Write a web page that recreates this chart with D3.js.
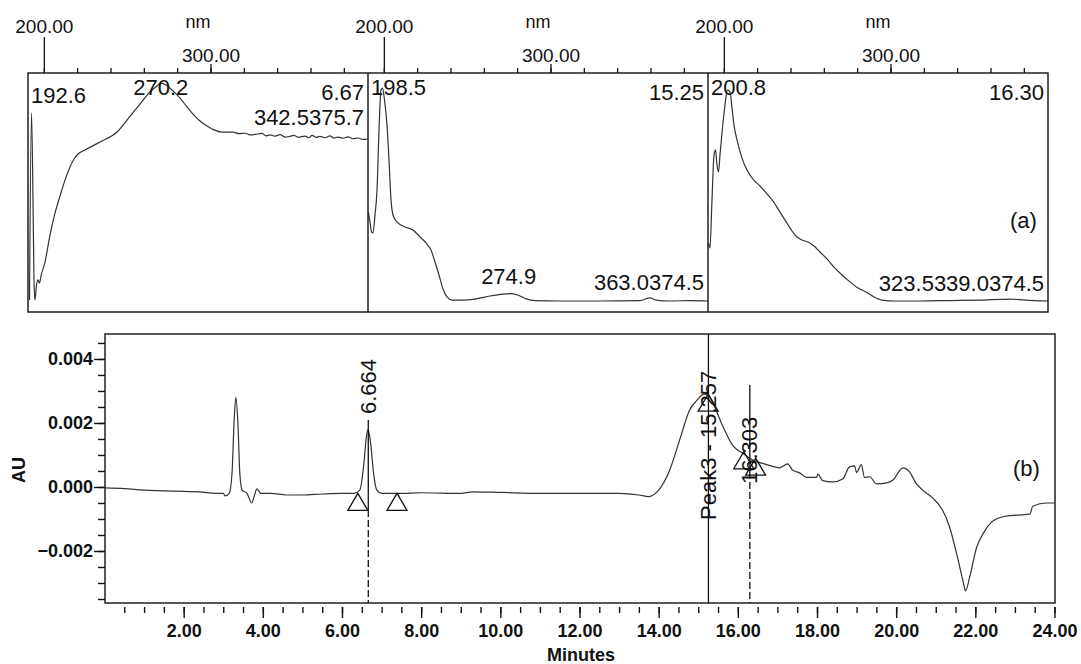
<!DOCTYPE html>
<html><head><meta charset="utf-8">
<script src="https://cdn.jsdelivr.net/npm/d3@7"></script>
<style>
body{margin:0;background:#fff;}
svg{display:block;font-family:"Liberation Sans",Arial,sans-serif;}
</style></head><body>
<svg id="chart" width="1081" height="664"></svg>
<script>
// ---------------- DATA ----------------
// UV spectra (wavelength nm, normalized absorbance)
const spectrum1 = [
 [191.4,.050],[192.6,.833],[193.5,.469],[194.1,.134],[194.7,.050],[195.6,.113],[196.5,.134],[197.4,.121],
 [198.3,.151],[200.7,.209],[203.7,.322],[206.7,.414],[209.7,.485],[212.7,.552],[215.7,.607],[218.1,.640],
 [220.5,.661],[224.7,.678],[233.7,.711],[243.9,.753],[250.5,.808],[257.7,.870],[263.7,.921],[267.9,.946],
 [270.3,.958],[273.3,.950],[277.5,.925],[281.7,.895],[285.9,.858],[289.5,.828],[293.7,.799],[297.9,.778],
 [302.1,.762],[306.9,.753],[313.5,.753],[317.1,.746],[320.7,.748],[323.7,.741],[326.7,.743],[330.9,.747],
 [333.3,.737],[335.7,.741],[338.7,.736],[341.7,.742],[344.7,.732],[347.7,.735],[350.1,.739],[352.5,.731],
 [356.7,.736],[359.1,.729],[360.9,.739],[363.3,.731],[365.7,.735],[368.7,.729],[371.7,.737],[374.1,.728],
 [376.5,.732],[379.5,.727],[382.5,.733],[385.5,.725],[388.5,.728],[391.5,.722],[393.9,.723]
];
const spectrum2 = [
 [190.7,.418],[191.7,.377],[192.6,.335],[193.5,.331],[194.7,.406],[195.9,.510],[197.1,.761],[198.3,.929],
 [199.2,.937],[200.4,.887],[201.9,.782],[203.1,.636],[204.3,.469],[205.5,.406],[207.9,.377],[212.7,.356],
 [217.5,.343],[221.7,.314],[225.3,.289],[228.3,.259],[230.7,.209],[233.1,.155],[235.5,.096],[237.9,.063],
 [240.9,.050],[246.9,.050],[254.7,.054],[263.7,.067],[271.5,.075],[276.9,.077],[281.7,.067],[285.9,.054],
 [290.7,.048],[305.7,.046],[329.7,.046],[353.7,.048],[359.7,.059],[363.3,.050],[371.7,.046],[383.7,.048],[394.5,.046]
];
const spectrum3 = [
 [190.8,.289],[191.7,.268],[192.9,.469],[194.1,.657],[195.0,.678],[195.9,.615],[196.8,.586],[197.7,.657],
 [198.9,.749],[200.7,.866],[202.2,.929],[203.7,.921],[204.9,.854],[206.1,.782],[207.9,.720],[210.9,.644],
 [213.9,.594],[217.5,.556],[221.7,.527],[225.9,.494],[229.5,.464],[233.7,.418],[237.9,.372],[240.9,.339],
 [243.9,.314],[246.9,.301],[250.5,.293],[254.1,.276],[257.7,.251],[261.9,.222],[266.1,.188],[270.9,.155],
 [275.7,.126],[280.5,.100],[285.3,.084],[290.1,.063],[294.9,.050],[302.7,.046],[317.7,.046],[335.7,.048],
 [353.7,.050],[371.7,.054],[380.7,.050],[394.5,.046]
];
const spectrumRT = ["6.67", "15.25", "16.30"];
const spectrumPeaks = [[192.6, 270.2], [198.5, 274.9], [200.8]];
const spectrumTail = [["342.5", "375.7"], ["363.0", "374.5"], ["323.5", "339.0", "374.5"]];
const nmTicks = [200, 220, 240, 260, 280, 300, 320, 340, 360, 380];
const nmLabels = ["200.00", "300.00"];

// Chromatogram (minutes, AU)
const chromTime = [0.02,0.5,1.0,1.5,2.0,2.4,2.8,3.0,3.05,3.15,3.22,3.28,3.32,3.37,3.42,3.48,3.6,3.72,3.78,3.85,3.95,
 4.2,4.6,5.0,5.5,6.0,6.3,6.45,6.55,6.62,6.66,6.72,6.8,6.88,7.0,7.5,8.0,9.0,9.3,10.0,11.0,12.0,13.0,13.5,13.75,
 14.0,14.28,14.53,14.78,14.96,15.15,15.3,15.45,15.62,15.87,16.12,16.38,16.73,17.06,17.26,17.38,17.56,17.74,17.99,
 18.02,18.14,18.4,18.65,18.82,18.95,19.0,19.12,19.2,19.33,19.5,19.76,19.92,20.17,20.34,20.5,20.67,20.92,21.17,
 21.35,21.53,21.7,21.75,21.86,22.03,22.2,22.41,22.7,23.04,23.38,23.45,23.8,24.0];
const chromAU = [-0.00003,-0.00005,-0.0001,-0.00012,-0.00014,-0.00015,-0.0002,-0.0002,-0.00028,-0.0002,0.0004,0.0022,0.0028,0.0020,0.0004,-0.0001,-0.0002,-0.0005,-0.0003,-0.00006,-0.0002,
 -0.0002,-0.00025,-0.00025,-0.00022,-0.0002,-0.0002,-0.0001,0.0007,0.0016,0.0018,0.0014,0.0004,-0.0001,-0.0002,-0.0002,-0.00018,-0.0002,-0.00015,-0.00017,-0.0002,-0.0002,-0.0002,-0.00025,-0.0003,
 -0.0001,0.00053,0.00147,0.0024,0.0027,0.0029,0.0028,0.0024,0.0019,0.0013,0.00106,0.00084,0.0007,0.0006,0.00072,0.00053,0.00044,0.0003,0.0003,
 0.0004,0.0002,0.00016,0.00025,0.00063,0.00066,0.00045,0.0007,0.0003,0.00032,0.0001,0.00013,0.00022,0.0006,0.00047,0.00012,-0.0001,-0.00034,-0.00072,
 -0.00125,-0.0021,-0.003,-0.00325,-0.0028,-0.0019,-0.00145,-0.0011,-0.00093,-0.00088,-0.00085,-0.0006,-0.0005,-0.0005];
const peakRT = [6.664, 15.257, 16.303];
const peakLabel = ["6.664", "Peak3 - 15.257", "16.303"];
const markerTime = [6.40, 7.39, 15.25, 16.15, 16.45];
const markerAU = [-0.0002, -0.0002, 0.0029, 0.0011, 0.0009];
const auTicksMajor = [-0.002, 0, 0.002, 0.004];
const auTicksMinor = d3.range(-7, 10).map(k => k * 0.0005);
const minTicksMajor = d3.range(1, 13).map(k => k * 2);
const minTicksMinor = d3.range(1, 49).map(k => k * 0.5);

// ---------------- DRAW ----------------
const svg = d3.select("#chart");
const FONT = '"Liberation Sans", Arial, sans-serif';
const INK = "#111";
const TRACE = "#333";

// ---- top spectra ----
const topY0 = 73, topY1 = 312, panelW = 340, panelLefts = [28, 368, 708];
const yS = d3.scaleLinear().domain([0, 1]).range([topY1, topY0]);
const spectra = [spectrum1, spectrum2, spectrum3];

const topG = svg.append("g");
spectra.forEach((spec, i) => {
  const L = panelLefts[i];
  const xS = d3.scaleLinear().domain([190.5, 394.5]).range([L, L + panelW]);
  const clipId = "clip" + i;
  svg.append("clipPath").attr("id", clipId).append("rect")
    .attr("x", L).attr("y", topY0).attr("width", panelW).attr("height", topY1 - topY0);
  topG.append("path").datum(spec)
    .attr("clip-path", `url(#${clipId})`)
    .attr("fill", "none").attr("stroke", TRACE).attr("stroke-width", 1.2)
    .attr("d", d3.line().x(d => xS(d[0])).y(d => yS(d[1])).curve(d3.curveMonotoneX));

  // top axis
  const minorAx = d3.axisTop(xS).tickValues(nmTicks).tickSize(5).tickSizeOuter(0).tickFormat("");
  const gMinor = topG.append("g").attr("transform", `translate(0,${topY0})`).call(minorAx);
  gMinor.select(".domain").remove();
  const ax300 = d3.axisTop(xS).tickValues([300]).tickSize(9).tickPadding(2).tickFormat(() => nmLabels[1]);
  const g300 = topG.append("g").attr("transform", `translate(0,${topY0})`).call(ax300);
  g300.select(".domain").remove();
  const ax200 = d3.axisTop(xS).tickValues([200]).tickSize(36).tickPadding(4).tickFormat(() => nmLabels[0]);
  const g200 = topG.append("g").attr("transform", `translate(0,${topY0})`).call(ax200);
  g200.select(".domain").remove();
  [gMinor, g300, g200].forEach(g => {
    g.selectAll("line").attr("stroke", INK).attr("stroke-width", 1.3);
    g.selectAll("text").attr("font-size", 19).attr("font-family", FONT).attr("fill", INK);
  });
  topG.append("text").attr("x", L + 170).attr("y", 28).attr("text-anchor", "middle")
    .attr("font-size", 18).attr("fill", INK).text("nm");

  const interp = w => {
    const k = d3.bisector(d => d[0]).left(spec, w);
    if (k <= 0) return spec[0][1];
    if (k >= spec.length) return spec[spec.length - 1][1];
    const a = spec[k - 1], b = spec[k];
    return a[1] + (b[1] - a[1]) * (w - a[0]) / (b[0] - a[0]);
  };
  // peak labels
  spectrumPeaks[i].forEach(w => {
    const t = topG.append("text").attr("font-size", 22).attr("fill", INK).text(w.toFixed(1));
    const tw = t.node().getComputedTextLength();
    let xx = xS(w) - tw / 2;
    xx = Math.max(L + 3, xx);
    const yy = Math.max(95, yS(interp(w)) - 10);
    t.attr("x", xx).attr("y", yy);
  });
  // tail labels (crowded at right end)
  const tw0 = parseFloat(spectrumTail[i][0]);
  topG.append("text").attr("font-size", 22).attr("fill", INK).attr("text-anchor", "end")
    .attr("x", L + panelW - 4).attr("y", Math.max(95, yS(interp(tw0)) - 10))
    .text(spectrumTail[i].join(""));
  // retention time
  topG.append("text").attr("font-size", 22).attr("fill", INK).attr("text-anchor", "end")
    .attr("x", L + panelW - 4).attr("y", 100).text(spectrumRT[i]);
});
// frame + dividers
topG.append("rect").attr("x", 28).attr("y", topY0).attr("width", 3 * panelW).attr("height", topY1 - topY0)
  .attr("fill", "none").attr("stroke", INK).attr("stroke-width", 1.4);
[368, 708].forEach(xx => topG.append("line").attr("x1", xx).attr("x2", xx).attr("y1", topY0).attr("y2", topY1)
  .attr("stroke", INK).attr("stroke-width", 1.4));
topG.append("text").attr("x", 1010).attr("y", 228).attr("font-size", 22).attr("fill", INK).text("(a)");

// ---- bottom chromatogram ----
const bx0 = 105, bx1 = 1055, by0 = 334, by1 = 603;
const x = d3.scaleLinear().domain([0, 24]).range([104.5, 1054.5]);
const y = d3.scaleLinear().domain([-0.003625, 0.00478]).range([by1, by0]);
const bot = svg.append("g");
const chrom = chromTime.map((t, k) => [t, chromAU[k]]);
bot.append("path").datum(chrom).attr("fill", "none").attr("stroke", TRACE).attr("stroke-width", 1.2)
  .attr("d", d3.line().x(d => x(d[0])).y(d => y(d[1])).curve(d3.curveMonotoneX));

// axes
function styleAxis(g) {
  g.select(".domain").remove();
  g.selectAll("line").attr("stroke", INK).attr("stroke-width", 1.4);
  g.selectAll("text").attr("font-size", 18).attr("font-weight", "bold").attr("font-family", FONT).attr("fill", INK);
}
styleAxis(bot.append("g").attr("transform", `translate(0,607)`)
  .call(d3.axisBottom(x).tickValues(minTicksMinor).tickSize(6).tickFormat("")));
styleAxis(bot.append("g").attr("transform", `translate(0,607)`)
  .call(d3.axisBottom(x).tickValues(minTicksMajor).tickSize(11).tickPadding(6).tickFormat(d3.format(".2f"))));
styleAxis(bot.append("g").attr("transform", `translate(${bx0},0)`)
  .call(d3.axisLeft(y).tickValues(auTicksMinor).tickSize(7).tickFormat("")));
styleAxis(bot.append("g").attr("transform", `translate(${bx0},0)`)
  .call(d3.axisLeft(y).tickValues(auTicksMajor).tickSize(11).tickPadding(1).tickFormat(d3.format(".3f"))));

bot.append("text").attr("x", 547).attr("y", 661).attr("font-size", 18).attr("font-weight", "bold")
  .attr("fill", INK).text("Minutes");
bot.append("text").attr("transform", "translate(25,470) rotate(-90)").attr("text-anchor", "middle")
  .attr("font-size", 18).attr("font-weight", "bold").attr("fill", INK).text("AU");

// peak annotations
const ann = bot.append("g").attr("stroke", INK).attr("stroke-width", 1.3);
const p0 = x(peakRT[0]);
ann.append("line").attr("x1", p0).attr("x2", p0).attr("y1", 420).attr("y2", 510);
ann.append("line").attr("x1", p0).attr("x2", p0).attr("y1", 510).attr("y2", by1).attr("stroke-dasharray", "7,3");
const p1 = x(peakRT[1]);
ann.append("line").attr("x1", p1).attr("x2", p1).attr("y1", by0).attr("y2", by1);
const p2 = x(peakRT[2]);
ann.append("line").attr("x1", p2).attr("x2", p2).attr("y1", 385).attr("y2", 472);
ann.append("line").attr("x1", p2).attr("x2", p2).attr("y1", 472).attr("y2", by1).attr("stroke-dasharray", "7,3");

markerTime.forEach((t, k) => {
  const mx = x(t), my = y(markerAU[k]);
  ann.append("path").attr("fill", "none")
    .attr("d", `M${mx},${my}L${mx + 10},${my + 17}L${mx - 10},${my + 17}Z`);
});

const labelBottoms = [414, 520, 484];
peakRT.forEach((rt, k) => {
  bot.append("text").attr("transform", `translate(${x(rt) + 7.5},${labelBottoms[k]}) rotate(-90)`)
    .attr("font-size", 22).attr("fill", INK).text(peakLabel[k]);
});

bot.append("rect").attr("x", bx0).attr("y", by0).attr("width", bx1 - bx0).attr("height", by1 - by0)
  .attr("fill", "none").attr("stroke", INK).attr("stroke-width", 1.4);
bot.append("text").attr("x", 1013).attr("y", 476).attr("font-size", 22).attr("fill", INK).text("(b)");
</script>
</body></html>
